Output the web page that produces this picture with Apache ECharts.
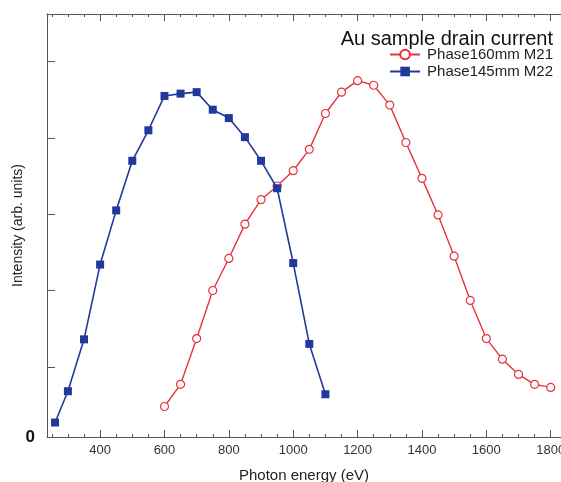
<!DOCTYPE html>
<html>
<head>
<meta charset="utf-8">
<script src="https://cdn.jsdelivr.net/npm/echarts@6/dist/echarts.min.js"></script>
<style>
html,body{margin:0;padding:0;background:#fff;}
#c{width:561px;height:482px;}
</style>
</head>
<body>
<div id="c"></div>
<script>
// Data (photon energy in eV, intensity in arb. units)
const redX = [600,650,700,750,800,850,900,950,1000,1050,1100,1150,1200,1250,1300,1350,1400,1450,1500,1550,1600,1650,1700,1750,1800];
const redY = [0.40,0.69,1.29,1.92,2.34,2.79,3.11,3.29,3.49,3.77,4.24,4.52,4.67,4.61,4.35,3.86,3.39,2.91,2.37,1.79,1.29,1.02,0.82,0.69,0.65];
const blueX = [260,300,350,400,450,500,550,600,650,700,750,800,850,900,950,1000,1050,1100];
const blueY = [0.19,0.60,1.28,2.26,2.97,3.62,4.02,4.47,4.50,4.52,4.29,4.18,3.93,3.62,3.26,2.28,1.22,0.56];

const redName = 'Phase160mm M21';
const blueName = 'Phase145mm M22';
const titleText = 'Au sample drain current';
const xTitle = 'Photon energy (eV)';
const yTitle = 'Intensity (arb. units)';

const xMajorTicks = [400,600,800,1000,1200,1400,1600,1800];
const xMinorTicks = [250,300,350,450,500,550,650,700,750,850,900,950,1050,1100,1150,1250,1300,1350,1450,1500,1550,1650,1700,1750];
const yTicks = [0.92,1.92,2.92,3.92,4.92];
const yLabels = [0];

const xMin = 235, xMax = 1832, yMin = 0, yMax = 5.544;

const font = 'Liberation Sans, Arial, Helvetica, sans-serif';
const axisCol = '#555';

function xAx(pos, ticks, len, showLine, showLabel, extra) {
  return Object.assign({
    type: 'value', position: pos, min: xMin, max: xMax, gridIndex: 0,
    axisLine: {show: showLine, onZero: false, lineStyle: {color: axisCol, width: 1}},
    axisTick: {show: true, inside: true, length: len, customValues: ticks, lineStyle: {color: axisCol, width: 1}},
    axisLabel: {show: showLabel, customValues: xMajorTicks, formatter: v => String(v),
      color: '#333', fontSize: 13, fontFamily: font, margin: 7},
    splitLine: {show: false}
  }, extra || {});
}

const chart = echarts.init(document.getElementById('c'), null, {renderer: 'canvas'});
chart.setOption({
  animation: false,
  backgroundColor: '#fff',
  title: {
    text: titleText, right: 3, top: 24,
    textStyle: {fontFamily: font, fontSize: 20, fontWeight: 'normal', color: '#111'}
  },
  legend: {
    orient: 'vertical', right: 3, top: 42, itemWidth: 30, itemHeight: 12, itemGap: 2,
    textStyle: {fontFamily: font, fontSize: 15, color: '#222', padding: [0,0,0,2]},
    data: [redName, blueName]
  },
  grid: {left: 47, right: 0, top: 14, bottom: 45, containLabel: false, outerBoundsMode: 'none'},
  xAxis: [
    xAx('bottom', xMinorTicks, 3, true, true, {
      name: xTitle, nameLocation: 'middle', nameGap: 31, nameMoveOverlap: false,
      nameTextStyle: {fontFamily: font, fontSize: 15, color: '#222'}
    }),
    xAx('bottom', xMajorTicks, 7, false, false),
    xAx('top', xMinorTicks, 3, true, false),
    xAx('top', xMajorTicks, 7, false, false)
  ],
  yAxis: [{
    type: 'value', min: yMin, max: yMax, position: 'left',
    axisLine: {show: true, onZero: false, lineStyle: {color: axisCol, width: 1}},
    axisTick: {show: true, inside: true, length: 8, customValues: yTicks, lineStyle: {color: axisCol, width: 1}},
    axisLabel: {show: true, customValues: yLabels, formatter: () => '0', color: '#111', fontSize: 17, fontWeight: 'bold', fontFamily: font, margin: 12},
    splitLine: {show: false},
    name: yTitle, nameLocation: 'middle', nameGap: 22, nameRotate: 90, nameMoveOverlap: false,
    nameTextStyle: {fontFamily: font, fontSize: 14, color: '#222'}
  }],
  series: [
    {
      name: redName, type: 'line', xAxisIndex: 0,
      data: redX.map((x, i) => [x, redY[i]]),
      symbol: 'circle', symbolSize: 8, showAllSymbol: true,
      lineStyle: {color: '#e8323c', width: 1.4},
      itemStyle: {color: '#ffffff', borderColor: '#e8323c', borderWidth: 1.2},
      z: 2
    },
    {
      name: blueName, type: 'line', xAxisIndex: 0,
      data: blueX.map((x, i) => [x, blueY[i]]),
      symbol: 'rect', symbolSize: 8, showAllSymbol: true,
      lineStyle: {color: '#23389a', width: 1.6},
      itemStyle: {color: '#1f3a9c', borderColor: '#1f3a9c', borderWidth: 0},
      z: 3
    }
  ]
});
</script>
</body>
</html>
